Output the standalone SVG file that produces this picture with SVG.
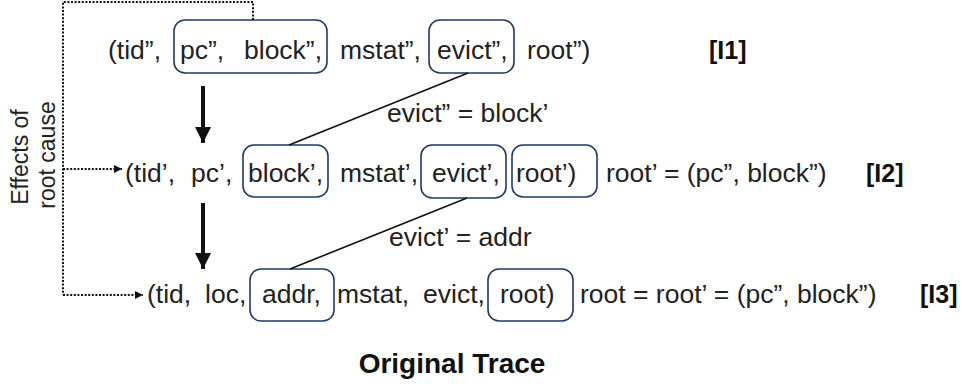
<svg xmlns="http://www.w3.org/2000/svg" width="962" height="388" viewBox="0 0 962 388">
  <style>
    .t { font-family: "Liberation Sans", Arial, sans-serif; font-size: 26.5px; fill: #222; }
    .b { font-family: "Liberation Sans", Arial, sans-serif; font-size: 25px; font-weight: bold; fill: #111; }
    .side { font-family: "Liberation Sans", Arial, sans-serif; font-size: 23px; fill: #222; text-anchor: middle; }
    .box { fill: none; stroke: #1d3a66; stroke-width: 1.6; }
    .link { stroke: #111; stroke-width: 1.6; fill: none; }
    .dot { stroke: #111; stroke-width: 2; stroke-dasharray: 2 1.6; fill: none; }
    .flow { stroke: #111; stroke-width: 4; fill: none; }
  </style>
  <defs>
    <marker id="bigHead" viewBox="0 0 10 10" refX="10" refY="5" markerUnits="userSpaceOnUse" markerWidth="18" markerHeight="16" orient="auto">
      <path d="M0,0 L10,5 L0,10 Z" fill="#111"/>
    </marker>
    <marker id="smallHead" viewBox="0 0 10 10" refX="10" refY="5" markerUnits="userSpaceOnUse" markerWidth="9" markerHeight="8" orient="auto">
      <path d="M0,0 L10,5 L0,10 Z" fill="#111"/>
    </marker>
  </defs>

  <!-- Side caption -->
  <g id="caption-side">
    <text class="side" transform="translate(28,157) rotate(-90)">Effects of</text>
    <text class="side" transform="translate(55,155) rotate(-90)">root cause</text>
  </g>

  <!-- Instruction I1 -->
  <g id="row-i1">
    <rect class="box" x="174" y="20" width="153" height="53" rx="11"/>
    <rect class="box" x="429" y="20" width="85" height="53" rx="11"/>
    <text class="t" x="108" y="59">(tid”,</text>
    <text class="t" x="180" y="59">pc”,</text>
    <text class="t" x="244" y="59">block”,</text>
    <text class="t" x="340" y="59">mstat”,</text>
    <text class="t" x="437" y="59">evict”,</text>
    <text class="t" x="527" y="59">root”)</text>
    <text class="b" x="709" y="59">[I1]</text>
  </g>

  <!-- Instruction I2 -->
  <g id="row-i2">
    <rect class="box" x="243" y="145" width="85" height="52" rx="11"/>
    <rect class="box" x="421" y="145" width="85" height="53" rx="11"/>
    <rect class="box" x="512" y="145" width="85" height="52" rx="11"/>
    <text class="t" x="125" y="182">(tid’,</text>
    <text class="t" x="191" y="182">pc’,</text>
    <text class="t" x="248" y="182">block’,</text>
    <text class="t" x="340" y="182">mstat’,</text>
    <text class="t" x="432" y="182">evict’,</text>
    <text class="t" x="516" y="182">root’)</text>
    <text class="t" x="606" y="182">root’ = (pc”, block”)</text>
    <text class="b" x="866" y="182">[I2]</text>
  </g>

  <!-- Instruction I3 -->
  <g id="row-i3">
    <rect class="box" x="250" y="269" width="84" height="52" rx="11"/>
    <rect class="box" x="488" y="269" width="85" height="52" rx="11"/>
    <text class="t" x="147" y="303">(tid,</text>
    <text class="t" x="205" y="303">loc,</text>
    <text class="t" x="262" y="303">addr,</text>
    <text class="t" x="337" y="303">mstat,</text>
    <text class="t" x="423" y="303">evict,</text>
    <text class="t" x="500" y="303">root)</text>
    <text class="t" x="580" y="303">root = root’ = (pc”, block”)</text>
    <text class="b" x="920" y="303">[I3]</text>
  </g>

  <!-- Connectors -->
  <g id="connectors">
    <!-- data-flow equalities -->
    <line class="link" x1="468" y1="73" x2="289" y2="145"/>
    <line class="link" x1="467" y1="198" x2="290" y2="269"/>
    <text class="t" x="387" y="122">evict” = block’</text>
    <text class="t" x="389" y="246">evict’ = addr</text>

    <!-- execution order -->
    <line class="flow" x1="203" y1="86" x2="203" y2="143" marker-end="url(#bigHead)"/>
    <line class="flow" x1="203" y1="203" x2="203" y2="269" marker-end="url(#bigHead)"/>

    <!-- root-cause propagation -->
    <polyline class="dot" points="253,20 253,2 63,2 63,295"/>
    <line class="dot" x1="63" y1="169" x2="122" y2="169" marker-end="url(#smallHead)"/>
    <line class="dot" x1="63" y1="295" x2="143" y2="295" marker-end="url(#smallHead)"/>
  </g>

  <!-- Title -->
  <g id="title">
    <text class="b" x="452" y="373" text-anchor="middle" style="font-size:28px">Original Trace</text>
  </g>
</svg>
